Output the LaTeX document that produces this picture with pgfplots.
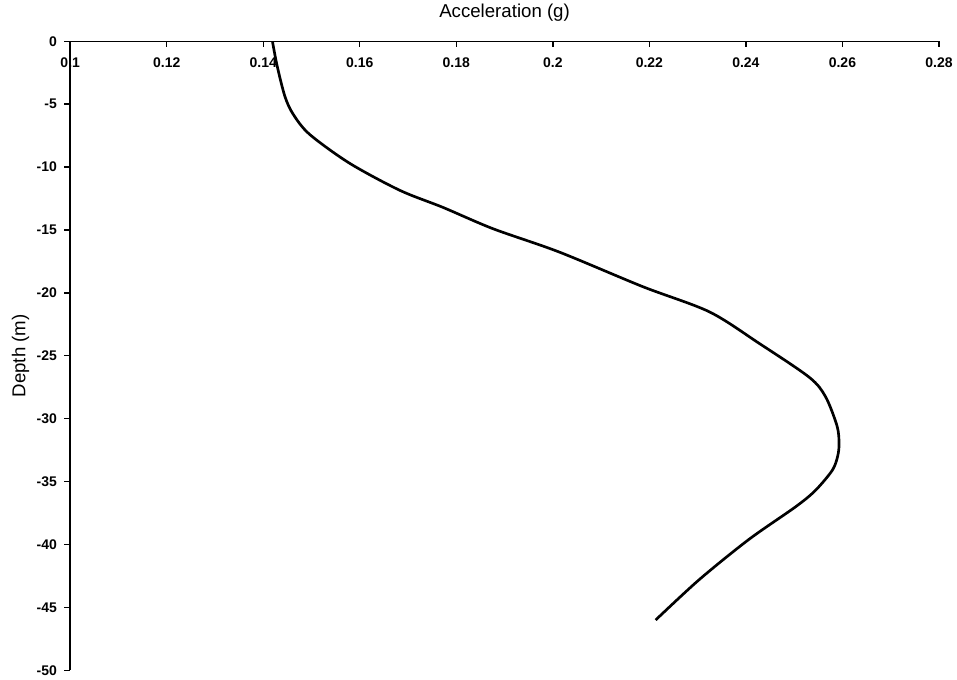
\documentclass[border=0pt]{standalone}
\usepackage{fontspec}
\setmainfont{Liberation Sans}
\usepackage{pgfplots}
\pgfplotsset{compat=1.18}
\begin{document}
\begin{tikzpicture}
\begin{axis}[
  scale only axis,
  width=652.5pt, height=472.5pt,
  xmin=0.1, xmax=0.28, ymin=-50, ymax=0,
  axis x line*=top, axis y line*=left,
  axis line style={line width=1.1pt, -},
  xtick={0.1,0.12,0.14,0.16,0.18,0.2,0.22,0.24,0.26,0.28},
  ytick={0,-5,-10,-15,-20,-25,-30,-35,-40,-45,-50},
  scaled x ticks=false,
  /pgf/number format/assume math mode=true,
  /pgf/number format/fixed,
  /pgf/number format/precision=2,
  tick align=outside,
  major tick length=4.5pt,
  tick style={line width=1pt, black},
  x tick style={yshift=-4.5pt},
  ticklabel style={font=\bfseries\fontsize{10.5}{12}\selectfont},
  xticklabel style={anchor=north, yshift=-13pt},
  yticklabel style={anchor=east, xshift=-2pt},
  xlabel={Acceleration (g)},
  xlabel style={at={(axis description cs:0.5,1)}, anchor=base, yshift=17.5pt, font=\fontsize{14}{16}\selectfont},
  ylabel={Depth (m)},
  ylabel style={at={(axis description cs:-0.057,0.5)}, anchor=center, inner ysep=9pt, font=\fontsize{14}{16}\selectfont},
  clip=false,
]
\addplot[black, line width=2pt, smooth] coordinates {
(0.1419, 0)
(0.1429, -2)
(0.1445, -4.4)
(0.1462, -5.8)
(0.1496, -7.4)
(0.1579, -9.7)
(0.1683, -11.85)
(0.1772, -13.2)
(0.1876, -14.9)
(0.2013, -16.75)
(0.2186, -19.5)
(0.2324, -21.5)
(0.2427, -24.0)
(0.2531, -26.7)
(0.2565, -28.25)
(0.2589, -30.6)
(0.2593, -32.0)
(0.2590, -33.0)
(0.2579, -34.1)
(0.2544, -35.7)
(0.2503, -37.0)
(0.2406, -39.6)
(0.2303, -42.8)
(0.2213, -46.0)
};
\end{axis}
\end{tikzpicture}
\end{document}
